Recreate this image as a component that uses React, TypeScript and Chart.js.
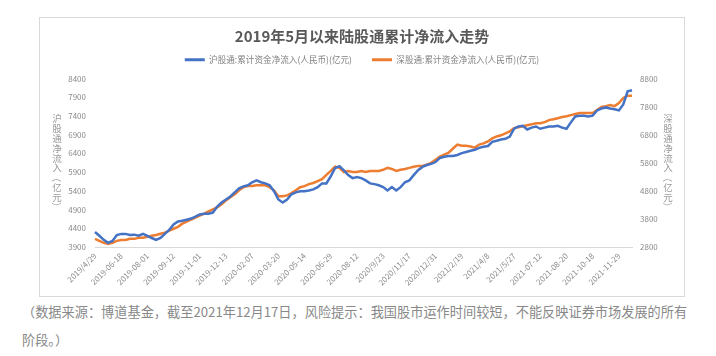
import React, { useEffect, useRef } from "react";
import { Chart, registerables } from "chart.js";

Chart.register(...registerables);

const FONT = '"Noto Sans CJK SC", "Noto Sans", sans-serif';

const chartTitle = "2019年5月以来陆股通累计净流入走势";
const seriesNames = ["沪股通:累计资金净流入(人民币)(亿元)", "深股通:累计资金净流入(人民币)(亿元)"];
const leftAxisTitle = "沪股通净流入（亿元）";
const rightAxisTitle = "深股通净流入（亿元）";
const captionLines = [
  "（数据来源：博道基金，截至2021年12月17日，风险提示：我国股市运作时间较短，不能反映证券市场发展的所有",
  "阶段。）",
];

const dateLabels = [
  "2019/4/29", "2019-06-18", "2019-08-01", "2019-09-12", "2019-11-01", "2019-12-13",
  "2020-02-07", "2020-03-20", "2020-05-14", "2020-06-29", "2020-08-12", "2020/9/23",
  "2020/11/17", "2020/12/31", "2021/2/19", "2021/4/8", "2021/5/27", "2021-07-12",
  "2021-08-20", "2021-10-18", "2021-11-29",
];
const samplesPerLabel = 6;

// 沪股通 cumulative net inflow (left axis)
const shanghai = [
  4300, 4200, 4090, 4010, 4060, 4220, 4250, 4250, 4220, 4230,
  4200, 4250, 4200, 4140, 4090, 4140, 4250, 4360, 4500, 4580,
  4600, 4630, 4660, 4710, 4770, 4790, 4790, 4820, 4980, 5090,
  5170, 5250, 5360, 5470, 5520, 5550, 5630, 5680, 5630, 5600,
  5550, 5390, 5170, 5090, 5170, 5310, 5360, 5390, 5390, 5410,
  5440, 5500, 5600, 5600, 5790, 6010, 6060, 5950, 5820, 5740,
  5770, 5740, 5680, 5600, 5580, 5550, 5500, 5410, 5500, 5410,
  5500, 5630, 5680, 5820, 5950, 6040, 6090, 6120, 6170, 6280,
  6310, 6330, 6330, 6360, 6410, 6440, 6470, 6500, 6550, 6580,
  6600, 6710, 6740, 6770, 6790, 6850, 7060, 7120, 7140, 7040,
  7090, 7120, 7060, 7090, 7120, 7120, 7140, 7090, 7060, 7230,
  7390, 7410, 7410, 7390, 7410, 7550, 7600, 7630, 7600, 7580,
  7550, 7710, 8060, 8090,
];

// 深股通 cumulative net inflow (right axis)
const shenzhen = [
  3090, 3020, 2950, 2910, 2950, 3020, 3050, 3050, 3090, 3090,
  3130, 3130, 3160, 3200, 3230, 3270, 3310, 3380, 3450, 3520,
  3630, 3700, 3780, 3850, 3920, 3990, 4070, 4140, 4210, 4320,
  4460, 4570, 4680, 4820, 4930, 4970, 4970, 5000, 5000, 5000,
  4930, 4820, 4610, 4610, 4640, 4720, 4820, 4930, 4970, 5040,
  5080, 5150, 5220, 5370, 5510, 5660, 5620, 5470, 5510, 5470,
  5470, 5510, 5470, 5510, 5510, 5510, 5550, 5620, 5580, 5510,
  5550, 5580, 5620, 5660, 5690, 5690, 5730, 5800, 5910, 6020,
  6090, 6160, 6310, 6450, 6410, 6410, 6380, 6340, 6450, 6490,
  6560, 6670, 6740, 6780, 6850, 6920, 7030, 7070, 7100, 7140,
  7170, 7210, 7210, 7250, 7320, 7350, 7390, 7430, 7460, 7500,
  7540, 7570, 7570, 7570, 7570, 7680, 7790, 7820, 7860, 7820,
  7930, 8110, 8190, 8190,
];

const leftTicks = [3900, 4400, 4900, 5400, 5900, 6400, 6900, 7400, 7900, 8400];
const rightTicks = [2800, 3800, 4800, 5800, 6800, 7800, 8800];

const categories = shanghai.map((_, i) =>
  i % samplesPerLabel === 0 && dateLabels[i / samplesPerLabel] !== undefined
    ? dateLabels[i / samplesPerLabel]
    : ""
);

const verticalTitles = {
  id: "verticalTitles",
  afterDraw(chart: any) {
    const { ctx, chartArea } = chart;
    const draw = (text: string, x: number) => {
      const chars = Array.from(text);
      const step = 9.8;
      const cy = (chartArea.top + chartArea.bottom) / 2;
      let y = cy - ((chars.length - 1) * step) / 2;
      ctx.save();
      ctx.font = `9.5px ${FONT}`;
      ctx.fillStyle = "#9a9a9a";
      ctx.textAlign = "center";
      ctx.textBaseline = "middle";
      for (const ch of chars) {
        if (ch === "（" || ch === "）") {
          ctx.save();
          ctx.translate(x, y);
          ctx.rotate(Math.PI / 2);
          ctx.fillText(ch, 0, 0);
          ctx.restore();
        } else {
          ctx.fillText(ch, x, y);
        }
        y += step;
      }
      ctx.restore();
    };
    draw(leftAxisTitle, chart.scales.yL.left + 17);
    draw(rightAxisTitle, chart.scales.yR.left + 36);
  },
};

export default function App() {
  const ref = useRef<HTMLCanvasElement>(null);

  useEffect(() => {
    const tickFont = { family: FONT, size: 8 };
    const plain = (v: any) => String(v);
    const chart = new Chart(ref.current as HTMLCanvasElement, {
      type: "line",
      data: {
        labels: categories,
        datasets: [
          {
            label: seriesNames[0],
            data: shanghai,
            borderColor: "#4472C4",
            backgroundColor: "#4472C4",
            borderWidth: 2.5,
            pointRadius: 0,
            tension: 0,
            yAxisID: "yL",
          },
          {
            label: seriesNames[1],
            data: shenzhen,
            borderColor: "#ED7D31",
            backgroundColor: "#ED7D31",
            borderWidth: 2.5,
            pointRadius: 0,
            tension: 0,
            yAxisID: "yR",
          },
        ],
      },
      options: {
        responsive: false,
        animation: false,
        layout: { padding: 0 },
        plugins: {
          title: {
            display: true,
            text: chartTitle,
            color: "#595959",
            font: { family: FONT, size: 15, weight: "bold", lineHeight: 1.2 },
            padding: { top: 9, bottom: -9.5 },
          },
          subtitle: {
            display: true,
            text: "",
            weight: 500,
            font: { size: 1, lineHeight: 1 },
            padding: { top: 3.5, bottom: 0 },
          },
          legend: {
            display: true,
            position: "top",
            labels: {
              boxWidth: 20,
              boxHeight: 3,
              padding: 20,
              color: "#808080",
              font: { family: FONT, size: 8.6 },
              generateLabels: (c: any) =>
                (Chart.defaults.plugins.legend.labels.generateLabels as any)(c).map((l: any) => ({
                  ...l,
                  lineWidth: 0,
                })),
            },
          },
          tooltip: { enabled: false },
        },
        scales: {
          x: {
            type: "category",
            grid: { display: false, drawTicks: false },
            border: { display: true, color: "#d9d9d9", width: 1 },
            ticks: {
              autoSkip: false,
              maxRotation: 45,
              minRotation: 45,
              padding: 4,
              color: "#8a8a8a",
              font: tickFont,
            },
            afterFit: (s: any) => {
              s.height = 49;
            },
          },
          yL: {
            position: "left",
            min: leftTicks[0],
            max: leftTicks[leftTicks.length - 1],
            grid: { display: false, drawTicks: false },
            border: { display: false },
            ticks: {
              stepSize: leftTicks[1] - leftTicks[0],
              padding: 9,
              color: "#8a8a8a",
              font: tickFont,
              callback: plain,
            },
            afterFit: (s: any) => {
              s.width = 55;
            },
          },
          yR: {
            position: "right",
            min: rightTicks[0],
            max: rightTicks[rightTicks.length - 1],
            grid: { display: false, drawTicks: false },
            border: { display: false },
            ticks: {
              stepSize: rightTicks[1] - rightTicks[0],
              padding: 8,
              color: "#8a8a8a",
              font: tickFont,
              callback: plain,
            },
            afterFit: (s: any) => {
              s.width = 52;
            },
          },
        },
      } as any,
      plugins: [verticalTitles],
    });
    return () => chart.destroy();
  }, []);

  return (
    <div
      style={{
        position: "absolute",
        left: 0,
        top: 0,
        width: 716,
        height: 356,
        background: "#ffffff",
        fontFamily: FONT,
        overflow: "hidden",
      }}
    >
      <div
        style={{
          position: "absolute",
          left: 39,
          top: 17,
          width: 646,
          height: 280,
          border: "1px solid #d9d9d9",
          boxSizing: "border-box",
        }}
      />
      <canvas
        ref={ref}
        width={644}
        height={278}
        style={{ position: "absolute", left: 40, top: 18, width: 644, height: 278, display: "block" }}
      />
      {captionLines.map((line, i) => (
        <div
          key={i}
          style={{
            position: "absolute",
            left: 22,
            top: 302 + i * 28,
            fontSize: 13.2,
            lineHeight: "20px",
            color: "#888888",
            whiteSpace: "nowrap",
          }}
        >
          {line}
        </div>
      ))}
    </div>
  );
}
